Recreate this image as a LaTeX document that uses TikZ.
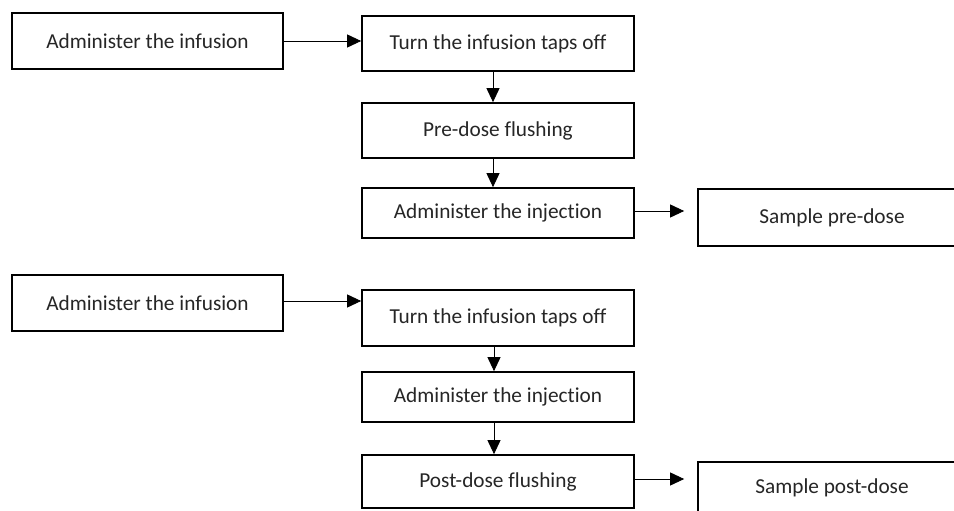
\documentclass[tikz,border=0pt]{standalone}
\usepackage{fontspec}
\setmainfont{Carlito}[Ligatures=NoCommon]
\usetikzlibrary{arrows.meta,calc}
\begin{document}
\begin{tikzpicture}[x=1pt,y=-1pt,
  stepbox/.style={draw=black,line width=1.7pt,rectangle,inner sep=0pt,
    font=\fontsize{21.3pt}{25pt}\selectfont,text=black!85},
  flow/.style={line width=0.9pt,-{Triangle[length=14pt,width=13pt]}}]
\useasboundingbox (0,0) rectangle (954,511);
\clip (0,0) rectangle (954,511);
\fill[white] (0,0) rectangle (954,511);
% top group
\node[stepbox,minimum width=271pt,minimum height=56pt] (a1) at (147.5,41) {Administer the infusion};
\node[stepbox,minimum width=272pt,minimum height=55pt] (b1) at (498,43.5) {Turn the infusion taps off};
\node[stepbox,minimum width=272pt,minimum height=55pt] (c1) at (498,130.5) {Pre-dose flushing};
\node[stepbox,minimum width=272pt,minimum height=50pt] (d1) at (498,213) {Administer the injection};
\node[stepbox,minimum width=268pt,minimum height=57pt] (e1) at (832,217.5) {Sample pre-dose};
% bottom group
\node[stepbox,minimum width=271pt,minimum height=56pt] (a2) at (147.5,303) {Administer the infusion};
\node[stepbox,minimum width=272pt,minimum height=56pt] (b2) at (498,318) {Turn the infusion taps off};
\node[stepbox,minimum width=272pt,minimum height=50pt] (c2) at (498,397) {Administer the injection};
\node[stepbox,minimum width=272pt,minimum height=53pt] (d2) at (498,481.5) {Post-dose flushing};
\node[stepbox,minimum width=268pt,minimum height=52pt] (e2) at (832,488) {Sample post-dose};
% connectors top
\draw[flow] (a1.east) -- (a1.east -| b1.west);
\draw[flow] ([xshift=-5pt]b1.south) -- ([xshift=-5pt]c1.north);
\draw[flow] ([xshift=-5pt]c1.south) -- ([xshift=-5pt]d1.north);
\draw[flow,shorten >=13pt] ([yshift=2pt]d1.east) -- ([yshift=2pt]d1.east -| e1.west);
% connectors bottom
\draw[flow] ([yshift=2pt]a2.east) -- ([yshift=2pt]a2.east -| b2.west);
\draw[flow] ([xshift=-4pt]b2.south) -- ([xshift=-4pt]c2.north);
\draw[flow] ([xshift=-4pt]c2.south) -- ([xshift=-4pt]d2.north);
\draw[flow,shorten >=13pt] ([yshift=2.5pt]d2.east) -- ([yshift=2.5pt]d2.east -| e2.west);
\end{tikzpicture}
\end{document}
